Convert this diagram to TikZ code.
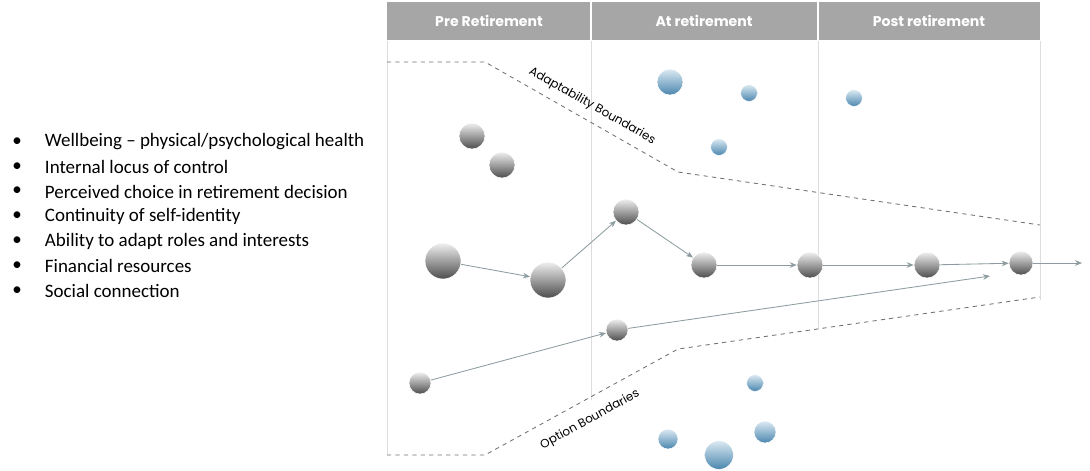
\documentclass[tikz,border=0pt]{standalone}
\usepackage{fontspec}
\setmainfont{Carlito}
\newfontfamily\gothic{Poppins}
\usetikzlibrary{arrows.meta}
\definecolor{headgray}{HTML}{A6A6A6}
\definecolor{rulegray}{HTML}{DDDDDD}
\definecolor{linkgray}{HTML}{8C9CA0}
\definecolor{dashgray}{HTML}{707070}
\definecolor{bluetop}{HTML}{DCEAF3}
\definecolor{bluebot}{HTML}{4A86AE}

\begin{document}
\begin{tikzpicture}[x=0.025cm,y=-0.025cm,
  grayball/.style={circle,inner sep=0pt,top color=gray!12,bottom color=black!70,draw=white,line width=0.4pt},
  blueball/.style={circle,inner sep=0pt,top color=bluetop,bottom color=bluebot,draw=white,line width=0.4pt},
  link/.style={draw=linkgray,line width=0.6pt,-{Stealth[length=5pt,width=4pt]}},
  bound/.style={dashgray,dashed,line width=0.6pt},
  phase/.style={text=white,font=\gothic\bfseries\fontsize{10}{11}\selectfont},
  boundlabel/.style={inner sep=1pt,font=\gothic\fontsize{8.5}{9}\selectfont}]
 \useasboundingbox (0,0) rectangle (1090,470);
 % header band
 \fill[headgray] (387,2) rectangle (1040,40);
 \draw[white,line width=1.2pt] (591,2) -- (591,40);
 \draw[white,line width=1.2pt] (818,2) -- (818,40);
 \node[phase] (pre) at (489,21) {Pre Retirement};
 \node[phase] (at) at (704,21) {At retirement};
 \node[phase] (post) at (929,21) {Post retirement};
 % column rules
 \draw[rulegray] (387,41) -- (387,455);
 \draw[rulegray] (591,41) -- (591,400);
 \draw[rulegray] (818,41) -- (818,330);
 \draw[rulegray] (1040,41) -- (1040,300);
 % boundaries
 \draw[bound] (387,62) -- (485,62) -- (678,172) -- (1040,225);
 \draw[bound] (387,455) -- (485,455) -- (678,349) -- (1040,297);
 \node[boundlabel,rotate=-29.7] (adapt) at (592,106) {Adaptability Boundaries};
 \node[boundlabel,rotate=28.8] (option) at (590,420) {Option Boundaries};
 % factors
 \foreach \t [count=\i] in {Wellbeing -- physical/psychological health,
   Internal locus of control,
   Perceived choice in retirement decision,
   Continuity of self-identity,
   Ability to adapt roles and interests,
   Financial resources,
   Social connection}{
   \node[font=\fontsize{13.5}{15}\selectfont] (dot\i) at (17,142+24.8*\i-24.8) {\textbullet};
   \node[anchor=west,font=\fontsize{13.5}{15}\selectfont] (item\i) at (40,142+24.8*\i-24.8) {\t};
 }
 % people (gray)
 \node[grayball,minimum size=0.65cm] (g1) at (472,136) {};
 \node[grayball,minimum size=0.65cm] (g2) at (502,165) {};
 \node[grayball,minimum size=0.9cm] (a1) at (443,261) {};
 \node[grayball,minimum size=0.9cm] (a2) at (548,280) {};
 \node[grayball,minimum size=0.65cm] (a3) at (626,212) {};
 \node[grayball,minimum size=0.65cm] (a4) at (704,265) {};
 \node[grayball,minimum size=0.65cm] (a5) at (810,265) {};
 \node[grayball,minimum size=0.65cm] (a6) at (927,265) {};
 \node[grayball,minimum size=0.6cm] (a7) at (1021,263) {};
 \node[grayball,minimum size=0.55cm] (b1) at (420,383) {};
 \node[grayball,minimum size=0.55cm] (b2) at (617,330) {};
 \coordinate (aend) at (1082,263);
 \coordinate (bend) at (990,276);
 % options (blue)
 \node[blueball,minimum size=0.65cm] (u1) at (670,82) {};
 \node[blueball,minimum size=0.42cm] (u2) at (749,93) {};
 \node[blueball,minimum size=0.42cm] (u3) at (719,147) {};
 \node[blueball,minimum size=0.42cm] (u4) at (854,98) {};
 \node[blueball,minimum size=0.42cm] (d1) at (755,383) {};
 \node[blueball,minimum size=0.5cm] (d2) at (668,439) {};
 \node[blueball,minimum size=0.55cm] (d3) at (765,432) {};
 \node[blueball,minimum size=0.72cm] (d4) at (719,455) {};
 % paths
 \draw[link] (a1) -- (a2);
 \draw[link] (a2) -- (a3);
 \draw[link] (a3) -- (a4);
 \draw[link] (a4) -- (a5);
 \draw[link] (a5) -- (a6);
 \draw[link] (a6) -- (a7);
 \draw[link] (a7) -- (aend);
 \draw[link] (b1) -- (b2);
 \draw[link] (b2) -- (bend);
\end{tikzpicture}
\end{document}
